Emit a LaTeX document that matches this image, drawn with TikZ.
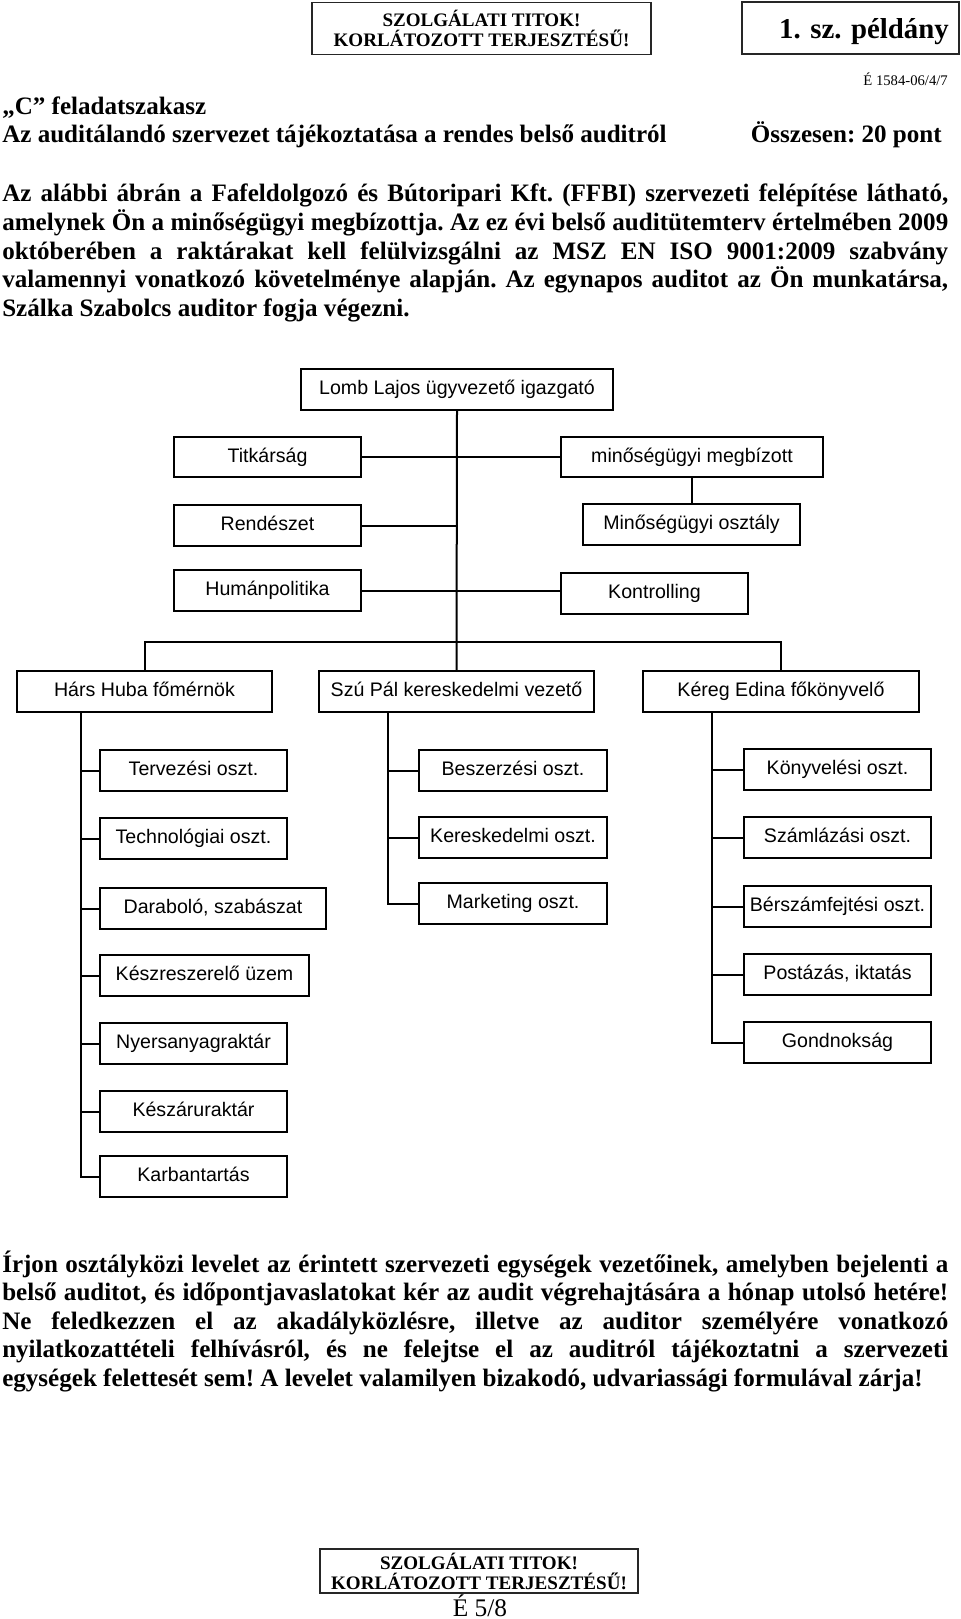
\documentclass[tikz,border=0pt]{standalone}
\usepackage{fontspec}
\setmainfont{Liberation Serif}
\newfontfamily\chartfont{Liberation Sans}
\usetikzlibrary{calc}
\newcommand\bodyfont{\fontsize{18.8}{21.5}\selectfont\bfseries\frenchspacing}
\newcommand\bx[6]{\node[obox, minimum width={0.75pt*(#4-#2)}, minimum height={0.75pt*(#5-#3)}] (#1) at ({(#2+#4)/2},{(#3+#5)/2}) {#6};}
\newcommand\jline[3]{\node[body] (#1) at (2,#2) {\makebox[709.5pt][s]{#3}};}
\newcommand\lline[3]{\node[body] (#1) at (2,#2) {#3};}
\begin{document}
\begin{tikzpicture}[x=0.75pt,y=-0.75pt,
  obox/.style={draw=black, line width=1.5pt, inner sep=0pt, text height=0.9em, text depth=0.1em, font=\chartfont\fontsize{14.7}{17}\selectfont},
  hbox/.style={draw=black!85, line width=0.8pt, inner sep=0pt, align=center},
  conn/.style={draw=black, line width=1.5pt},
  body/.style={anchor=base west, inner sep=0pt, font=\bodyfont},
]
\useasboundingbox (0,0) rectangle (960,1619);

% header
\node[hbox, minimum width=254.25pt, minimum height=39pt, font=\fontsize{14.3}{15}\selectfont\bfseries] (hb1) at (481.5,28.5) {SZOLGÁLATI TITOK!\\KORLÁTOZOTT TERJESZTÉSŰ!};
\node[hbox, minimum width=162.75pt, minimum height=39pt] (hb2) at (850.5,28) {};
\node[anchor=base, inner sep=0pt, font=\fontsize{21.6}{24}\selectfont\bfseries] (hb2t) at (864,39) {1. sz. példány};
\node[anchor=base east, inner sep=0pt, font=\fontsize{11}{13}\selectfont] (code) at (948,86) {É 1584-06/4/7};
\node[body] (task) at (2,115) {„C” feladatszakasz};
\node[body] (sub) at (2,143) {Az auditálandó szervezet tájékoztatása a rendes belső auditról};
\node[body, anchor=base east] (pont) at (942,143) {Összesen: 20 pont};

% paragraph 1
\jline{p1}{202}{Az alábbi ábrán a Fafeldolgozó és Bútoripari Kft. (FFBI) szervezeti felépítése látható,}
\jline{p2}{230.6}{amelynek Ön a minőségügyi megbízottja. Az ez évi belső auditütemterv értelmében 2009}
\jline{p3}{259.2}{októberében a raktárakat kell felülvizsgálni az MSZ EN ISO 9001:2009 szabvány}
\jline{p4}{287.8}{valamennyi vonatkozó követelménye alapján. Az egynapos auditot az Ön munkatársa,}
\lline{p5}{316.4}{Szálka Szabolcs auditor fogja végezni.}

% org chart
\bx{lomb}{301}{369}{613}{410}{Lomb Lajos ügyvezető igazgató}
\bx{titk}{174}{437}{361}{477}{Titkárság}
\bx{rend}{174}{505}{361}{546}{Rendészet}
\bx{hum}{174}{570}{361}{611}{Humánpolitika}
\bx{megb}{561}{437}{823}{477}{minőségügyi megbízott}
\bx{mosz}{583}{504}{800}{545}{Minőségügyi osztály}
\bx{kontr}{561}{573}{748}{614}{Kontrolling}
\bx{hars}{17}{671}{272}{712}{Hárs Huba főmérnök}
\bx{szu}{319}{671}{594}{712}{Szú Pál kereskedelmi vezető}
\bx{kereg}{643}{671}{919}{712}{Kéreg Edina főkönyvelő}

\bx{terv}{100}{750}{287}{791}{Tervezési oszt.}
\bx{tech}{100}{818}{287}{859}{Technológiai oszt.}
\bx{darab}{100}{888}{326}{929}{Daraboló, szabászat}
\bx{keszr}{100}{955}{309}{996}{Készreszerelő üzem}
\bx{nyers}{100}{1023}{287}{1064}{Nyersanyagraktár}
\bx{keszaru}{100}{1091}{287}{1132}{Készáruraktár}
\bx{karb}{100}{1156}{287}{1197}{Karbantartás}

\bx{besz}{419}{750}{607}{791}{Beszerzési oszt.}
\bx{kersz}{419}{817}{607}{858}{Kereskedelmi oszt.}
\bx{mark}{419}{883}{607}{924}{Marketing oszt.}

\bx{konyv}{744}{749}{931}{790}{Könyvelési oszt.}
\bx{szaml}{744}{817}{931}{858}{Számlázási oszt.}
\bx{bersz}{744}{886}{931}{927}{Bérszámfejtési oszt.}
\bx{post}{744}{954}{931}{995}{Postázás, iktatás}
\bx{gond}{744}{1022}{931}{1063}{Gondnokság}

% connectors
\draw[conn] (lomb.south) -- (szu.north);
\draw[conn] (titk.east) -- (megb.west);
\draw[conn] (rend.east) -- (rend.east -| lomb.south);
\draw[conn] (hum.east) -- (hum.east -| kontr.west);
\draw[conn] (megb.south) -- (megb.south |- mosz.north);
\draw[conn] (hars.north) -- ++(0,-28) -| (kereg.north);

\coordinate (hs) at (81,712);
\draw[conn] (hs) |- (karb.west);
\foreach \n in {terv,tech,darab,keszr,nyers,keszaru}{\draw[conn] (\n.west) -- (\n.west -| hs);}
\coordinate (ss) at (388,712);
\draw[conn] (ss) |- (mark.west);
\foreach \n in {besz,kersz}{\draw[conn] (\n.west) -- (\n.west -| ss);}
\coordinate (ks) at (712,712);
\draw[conn] (ks) |- (gond.west);
\foreach \n in {konyv,szaml,bersz,post}{\draw[conn] (\n.west) -- (\n.west -| ks);}

% paragraph 2
\jline{q1}{1272}{Írjon osztályközi levelet az érintett szervezeti egységek vezetőinek, amelyben bejelenti a}
\jline{q2}{1300.6}{belső auditot, és időpontjavaslatokat kér az audit végrehajtására a hónap utolsó hetére!}
\jline{q3}{1329.2}{Ne feledkezzen el az akadályközlésre, illetve az auditor személyére vonatkozó}
\jline{q4}{1357.8}{nyilatkozattételi felhívásról, és ne felejtse el az auditról tájékoztatni a szervezeti}
\lline{q5}{1386.4}{egységek felettesét sem! A levelet valamilyen bizakodó, udvariassági formulával zárja!}

% footer
\node[hbox, minimum width=238.5pt, minimum height=33pt, font=\fontsize{14.3}{15}\selectfont\bfseries] (fb) at (479,1571) {SZOLGÁLATI TITOK!\\KORLÁTOZOTT TERJESZTÉSŰ!};
\node[anchor=base, inner sep=0pt, font=\fontsize{19}{21}\selectfont] (page) at (480,1616) {É 5/8};
\end{tikzpicture}
\end{document}
